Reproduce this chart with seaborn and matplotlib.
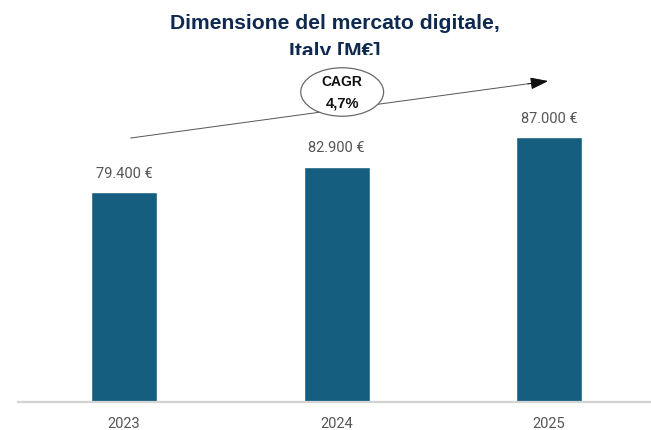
import matplotlib
matplotlib.use("Agg")
import matplotlib.pyplot as plt
import seaborn as sns
import pandas as pd
from matplotlib.patches import Ellipse
from matplotlib.transforms import Bbox, TransformedBbox

# Market size values (M€)
years = ["2023", "2024", "2025"]
values = [79400, 82900, 87000]
value_labels = ["79.400 €", "82.900 €", "87.000 €"]
title_lines = ["Dimensione del mercato digitale,", "Italy [M€]"]
cagr_label = ["CAGR", "4,7%"]

df = pd.DataFrame({"year": years, "value": values})

sns.set_theme(style="white")
plt.rcParams["font.family"] = ["Roboto", "DejaVu Sans"]

W, H, DPI = 651, 431, 100
fig = plt.figure(figsize=(W / DPI, H / DPI), dpi=DPI)
ax = fig.add_axes([18 / W, (H - 403) / H, (650 - 18) / W, (403 - 60) / H])

bar_color = "#165e80"
sns.barplot(data=df, x="year", y="value", color=bar_color, width=0.31,
            saturation=1, ax=ax)

ax.set_xlim(-0.5, 2.475)
ax.set_ylim(50400, 97800)

for spine in ["top", "right", "left"]:
    ax.spines[spine].set_visible(False)
ax.spines["bottom"].set_color("#d4d4d4")
ax.spines["bottom"].set_linewidth(1.6)
ax.set_yticks([])
ax.set_xlabel("")
ax.set_ylabel("")
ax.tick_params(axis="x", length=0, pad=10, labelsize=10.5, labelcolor="#555555")

# Value labels above each bar
for i, (v, lab) in enumerate(zip(values, value_labels)):
    ax.annotate(lab, (i, v), xytext=(0, 9), textcoords="offset points",
                ha="center", va="bottom", fontsize=10.5, color="#555555")

# CAGR trend arrow
ax.annotate("", xy=(1.995, 94750), xytext=(0.03, 86880),
            arrowprops=dict(arrowstyle="-|>,head_length=0.9,head_width=0.3",
                            color="#555555", lw=0.7, shrinkA=0, shrinkB=0))
ax.annotate("", xy=(1.995, 94750), xytext=(1.9, 94370),
            arrowprops=dict(arrowstyle="-|>,head_length=0.9,head_width=0.3",
                            color="#111111", lw=0.7, shrinkA=0, shrinkB=0))
ax.add_patch(Ellipse((1.026, 93240), width=0.39, height=6700,
                     facecolor="white", edgecolor="#6a6a6a", lw=0.9, zorder=5))
ax.text(1.026, 94700, cagr_label[0], ha="center", va="center", fontsize=10,
        fontweight="bold", family=["Liberation Sans", "DejaVu Sans"],
        color="#111111", zorder=6)
ax.text(1.026, 91800, cagr_label[1], ha="center", va="center", fontsize=10.5,
        fontweight="bold", family=["Liberation Sans", "DejaVu Sans"],
        color="#111111", zorder=6)

# Title, the second line trimmed at the top band edge
title_color = "#0f2a50"
clip = TransformedBbox(Bbox([[0, 1 - 56 / H], [1, 1]]), fig.transFigure)
for k, (line, ytop) in enumerate(zip(title_lines, [14, 42])):
    t = fig.text(335 / W, 1 - ytop / H, line, ha="center", va="top",
                 fontsize=15.2, fontweight="bold", color=title_color,
                 family=["Liberation Sans", "DejaVu Sans"])
    t.set_clip_on(True)
    t.set_clip_box(clip)

fig.savefig("out.png", dpi=DPI)
